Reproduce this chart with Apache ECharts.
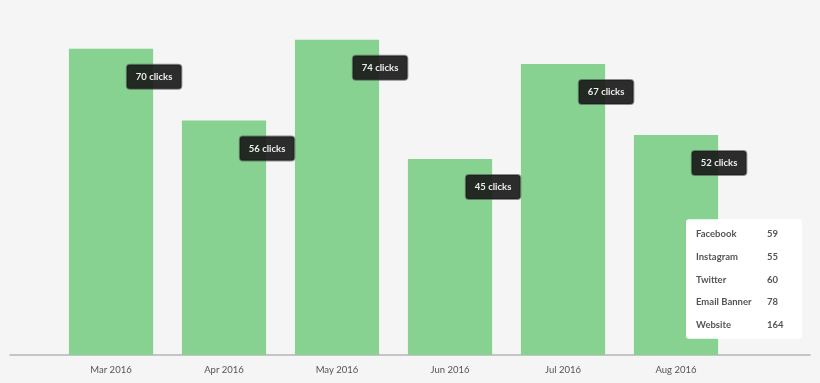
<!DOCTYPE html>
<html>
<head>
<meta charset="utf-8">
<script src="https://cdn.jsdelivr.net/npm/echarts@6/dist/echarts.min.js"></script>
<style>
html,body{margin:0;padding:0;background:#f5f5f5;}
#c{width:820px;height:383px;}
</style>
</head>
<body>
<div id="c"></div>
<script>
const months = ['Mar 2016','Apr 2016','May 2016','Jun 2016','Jul 2016','Aug 2016'];
// bar heights (axis units, 0–80 scale)
const barValues = [71.4, 54.7, 73.5, 45.7, 67.9, 51.3];
// click counts shown in the labels
const clicks = [70, 56, 74, 45, 67, 52];
const sources = ['Facebook','Instagram','Twitter','Email Banner','Website'];
const sourceValues = [59, 55, 60, 78, 164];

const chart = echarts.init(document.getElementById('c'));
const tableText = sources.map((s, i) => '{a|' + s + '}{b|' + sourceValues[i] + '}').join('\n');

chart.setOption({
  backgroundColor: '#f5f5f5',
  textStyle: { fontFamily: 'Lato' },
  animation: false,
  title: {
    text: tableText,
    left: 686, top: 213,
    backgroundColor: '#ffffff',
    borderRadius: 3,
    padding: [10, 10, 9, 10],
    textStyle: {
      rich: {
        a: { fontFamily: 'Lato', fontSize: 9.5, color: '#555', width: 71, lineHeight: 22.6 },
        b: { fontFamily: 'Lato', fontSize: 9.5, color: '#555', width: 25, lineHeight: 22.6 }
      }
    }
  },
  grid: [
    { left: 54.5, right: 87.5, top: 12, bottom: 28 },
    { left: 10, right: 10, top: 12, bottom: 28 }
  ],
  xAxis: [
    {
      type: 'category', gridIndex: 0, data: months,
      axisLine: { show: false }, axisTick: { show: false },
      axisLabel: { color: '#555', fontSize: 9.5, margin: 10, fontFamily: 'Lato' }
    },
    {
      type: 'value', gridIndex: 1, min: 0, max: 1,
      axisLine: { show: true, lineStyle: { color: '#b5b5b5', width: 1.5 } },
      axisTick: { show: false }, axisLabel: { show: false }, splitLine: { show: false }
    }
  ],
  yAxis: [
    { type: 'value', gridIndex: 0, min: 0, max: 80, show: false },
    { type: 'value', gridIndex: 1, min: 0, max: 1, show: false }
  ],
  series: [{
    type: 'bar',
    xAxisIndex: 0, yAxisIndex: 0,
    data: barValues,
    barWidth: '74.5%',
    itemStyle: { color: '#88d291' },
    label: {
      show: true,
      position: ['100%', 28],
      offset: [1, 0],
      align: 'center',
      verticalAlign: 'middle',
      formatter: p => clicks[p.dataIndex] + ' clicks',
      backgroundColor: 'rgba(22,22,22,0.9)',
      borderColor: 'rgba(70,70,70,0.6)',
      borderWidth: 1,
      borderRadius: 3,
      padding: [7, 9, 7, 9],
      color: '#ececec',
      fontWeight: 'bold',
      fontSize: 9.5,
      fontFamily: 'Lato'
    }
  }]
});
</script>
</body>
</html>
